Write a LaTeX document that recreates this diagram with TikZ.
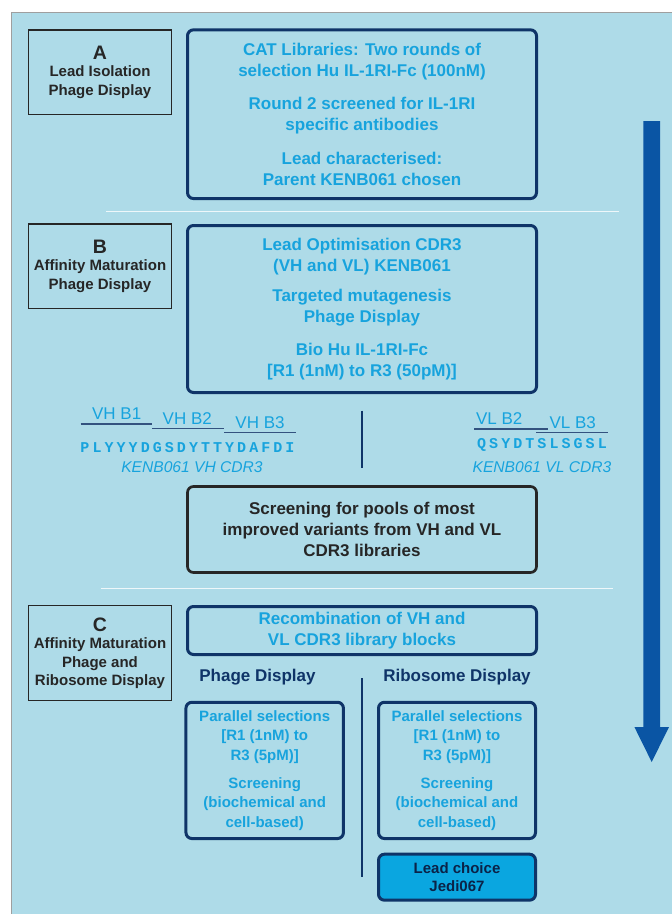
\documentclass[tikz,border=0pt]{standalone}
\usepackage{fontspec}
\setmainfont{Liberation Sans}
\newfontfamily\seqfont{Liberation Mono}
\definecolor{bgblue}{HTML}{AEDBE8}
\definecolor{txtblue}{HTML}{17A3DD}
\definecolor{navy}{HTML}{0F3468}
\definecolor{arrowblue}{HTML}{0A55A4}
\definecolor{leadfill}{HTML}{0AA6E0}
\definecolor{darktxt}{HTML}{262626}
\definecolor{leadtxt}{HTML}{0B2247}
\definecolor{divwhite}{HTML}{EEF7FA}
\newcommand\spacedseq[1]{\spacedseqi#1\relax}
\def\spacedseqi#1{\ifx#1\relax\else\makebox[12.06pt]{#1}\expandafter\spacedseqi\fi}
\begin{document}
\begin{tikzpicture}[x=1pt,y=-1pt,
  labelbox/.style={draw=darktxt, line width=1.3pt, minimum width=142.7pt, inner sep=0pt,
    align=center, text=darktxt, font=\bfseries\fontsize{15}{18.5}\selectfont},
  mainbox/.style={draw=navy, line width=3pt, rounded corners=6pt, minimum width=349pt,
    inner sep=0pt, align=center, text=txtblue, font=\bfseries\fontsize{17}{21}\selectfont},
  smallbox/.style={draw=navy, line width=3pt, rounded corners=6pt, minimum width=157.5pt,
    inner sep=0pt, align=center, text=txtblue, font=\bfseries\fontsize{15}{19.5}\selectfont},
  heading/.style={text=navy, font=\bfseries\fontsize{17}{20}\selectfont, inner sep=0pt},
  blocklabel/.style={text=txtblue, font=\fontsize{17}{20}\selectfont, inner sep=0pt},
  seqtext/.style={text=txtblue, font=\seqfont\bfseries\fontsize{15}{18}\selectfont, inner sep=0pt},
  cdrlabel/.style={text=txtblue, font=\itshape\fontsize{15.6}{18}\selectfont, inner sep=0pt},
  underline/.style={draw=navy!85!white, line width=1.5pt},
  divider/.style={draw=divwhite, line width=1.5pt},
  vdivider/.style={draw=navy, line width=1.8pt},
  biglet/.style={}]
\useasboundingbox (0,0) rectangle (672,914);
\fill[bgblue] (11,12) rectangle (673,915);
\draw[gray!75, line width=1pt] (11,915) -- (11,12) -- (673,12);

% ---------- A ----------
\node[labelbox, minimum height=84.4pt] (labA) at (100,72.2)
  {{\fontsize{19.5}{20}\selectfont A}\\[-1pt]Lead Isolation\\Phage Display};
\node[mainbox, minimum height=168.7pt] (boxA) at (362,114.2)
  {CAT Libraries: Two rounds of\\selection Hu IL-1RI-Fc (100nM)\\[12.3pt]
   Round 2 screened for IL-1RI\\specific antibodies\\[12.3pt]
   Lead characterised:\\Parent KENB061 chosen};
\coordinate (d1l) at (106,211.7);
\coordinate (d1r) at (618.7,211.7);
\draw[divider] (d1l) -- (d1r);

% ---------- B ----------
\node[labelbox, minimum height=84.4pt] (labB) at (100,266.2)
  {{\fontsize{19.5}{20}\selectfont B}\\[-1pt]Affinity Maturation\\Phage Display};
\node[mainbox, minimum height=167pt] (boxB) at (362,309)
  {Lead Optimisation CDR3\\(VH and VL) KENB061\\[8.8pt]
   Targeted mutagenesis\\Phage Display\\[12.4pt]
   Bio Hu IL-1RI-Fc\\{[R1 (1nM) to R3 (50pM)]}};

% VH blocks
\coordinate (vh0) at (80.7,424);   \coordinate (vh1) at (152.3,424);
\coordinate (vh1b) at (152.3,428.3); \coordinate (vh2) at (224,428.3);
\coordinate (vh2b) at (224,432.7); \coordinate (vh3) at (295.7,432.7);
\draw[underline] (vh0) -- (vh1);
\draw[underline] (vh1b) -- (vh2);
\draw[underline] (vh2b) -- (vh3);
\node[blocklabel] (vhb1) at (116.7,413.3) {VH B1};
\node[blocklabel] (vhb2) at (187.3,418.3) {VH B2};
\node[blocklabel] (vhb3) at (260,422.3) {VH B3};
\node[seqtext] (vhseq) at (187.5,447.3) {\spacedseq{PLYYYDGSDYTTYDAFDI}};
\node[cdrlabel] (vhcdr) at (192,466.7) {KENB061 VH CDR3};

% B vertical divider
\coordinate (vbt) at (362,410.7);
\coordinate (vbb) at (362,468.3);
\draw[vdivider] (vbt) -- (vbb);

% VL blocks
\coordinate (vl0) at (474.3,429); \coordinate (vl1) at (547.7,429);
\coordinate (vl1b) at (536,432.7); \coordinate (vl2) at (607.7,432.7);
\draw[underline] (vl0) -- (vl1);
\draw[underline] (vl1b) -- (vl2);
\node[blocklabel] (vlb2) at (499.3,419) {VL B2};
\node[blocklabel] (vlb3) at (572.7,422.3) {VL B3};
\node[seqtext] (vlseq) at (542,445.3) {\spacedseq{QSYDTSLSGSL}};
\node[cdrlabel] (vlcdr) at (542,466.7) {KENB061 VL CDR3};

% Screening box
\node[mainbox, draw=darktxt, line width=2.7pt, text=darktxt, minimum height=86pt] (screen) at (362,529.5)
  {Screening for pools of most\\improved variants from VH and VL\\CDR3 libraries};
\coordinate (d2l) at (100.7,588.3);
\coordinate (d2r) at (613.3,588.3);
\draw[divider] (d2l) -- (d2r);

% ---------- C ----------
\node[labelbox, minimum height=94.7pt] (labC) at (100,653)
  {{\fontsize{19.5}{20}\selectfont C}\\[-1pt]Affinity Maturation\\Phage and\\Ribosome Display};
\node[mainbox, minimum height=48pt] (recomb) at (362,630.5)
  {Recombination of VH and\\VL CDR3 library blocks};
\node[heading] (phageh) at (257.5,676.7) {Phage Display};
\node[heading] (riboh) at (457,676.7) {Ribosome Display};
\coordinate (vct) at (362,678.3);
\coordinate (vcb) at (362,876.7);
\draw[vdivider] (vct) -- (vcb);

\node[smallbox, minimum height=136.3pt] (phagebox) at (264.7,770.4)
  {Parallel selections\\{[R1 (1nM) to}\\R3 (5pM)]\\[8.5pt]
   Screening\\(biochemical and\\cell-based)};
\node[smallbox, minimum width=157pt, minimum height=136.3pt] (ribobox) at (457,770.4)
  {Parallel selections\\{[R1 (1nM) to}\\R3 (5pM)]\\[8.5pt]
   Screening\\(biochemical and\\cell-based)};
\node[smallbox, minimum width=157pt, minimum height=46pt, fill=leadfill, text=leadtxt,
  font=\bfseries\fontsize{15}{18.3}\selectfont] (lead) at (457,877.2)
  {Lead choice\\Jedi067};

% big arrow
\fill[arrowblue] (643.3,121) -- (660,121) -- (660,727) -- (669,727)
  -- (651.7,762) -- (634.4,727) -- (643.3,727) -- cycle;
\end{tikzpicture}
\end{document}
